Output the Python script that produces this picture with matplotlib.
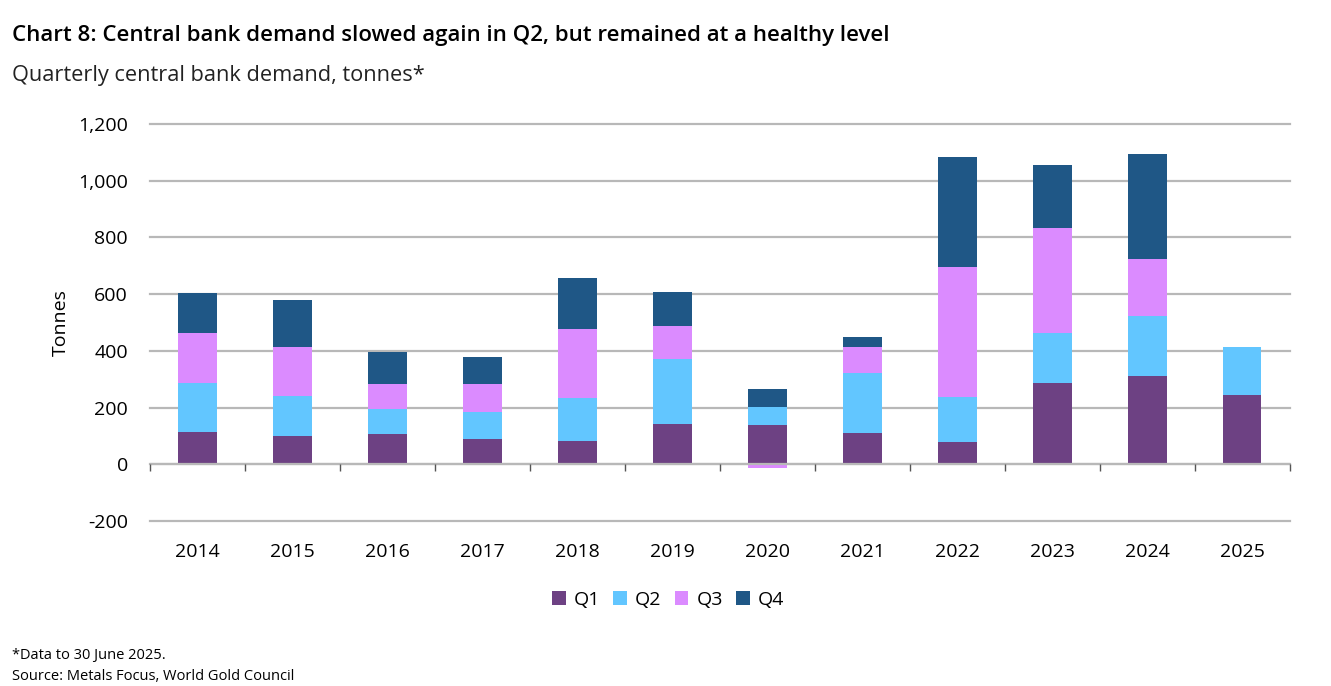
import numpy as np
import matplotlib
matplotlib.use('Agg')
from matplotlib import pyplot as plt
from matplotlib.patches import Patch

plt.rcParams['font.family'] = ['Open Sans', 'DejaVu Sans']

# Data (tonnes)
years = ['2014', '2015', '2016', '2017', '2018', '2019', '2020', '2021', '2022', '2023', '2024', '2025']
q1 = [115, 101, 108, 88, 82, 143, 139, 112, 79, 288, 312, 246]
q2 = [171, 141, 86, 98, 153, 229, 64, 210, 159, 176, 212, 169]
q3 = [178, 173, 88, 97, 241, 114, -12, 92, 459, 370, 200, np.nan]
q4 = [139, 166, 114, 96, 180, 121, 63, 36, 386, 220, 369, np.nan]

quarters = ['Q1', 'Q2', 'Q3', 'Q4']
colors = ['#6d4183', '#62c6ff', '#db8bff', '#1f5786']
yticks = [-200, 0, 200, 400, 600, 800, 1000, 1200]

fig = plt.figure(figsize=(13.31, 6.86), dpi=100)
ax = fig.add_axes([150 / 1331, 1 - 521 / 686, (1289.5 - 150) / 1331, (521 - 124) / 686])

x = np.arange(len(years))
series = np.array([q1, q2, q3, q4], dtype=float)
pos_base = np.zeros(len(years))
neg_base = np.zeros(len(years))
for vals, color, name in zip(series, colors, quarters):
    vals = np.nan_to_num(vals)
    bottoms = np.where(vals >= 0, pos_base, neg_base)
    ax.bar(x, vals, bottom=bottoms, width=0.41, color=color, label=name, zorder=3, linewidth=0)
    pos_base = pos_base + np.where(vals >= 0, vals, 0)
    neg_base = neg_base + np.where(vals < 0, vals, 0)

ax.set_xlim(-0.5, len(years) - 0.5)
ax.set_ylim(-200, 1200)
ax.set_yticks(yticks)
ax.set_yticklabels([f'{v:,}' for v in yticks])
ax.yaxis.grid(True, color='#b8b8b8', linewidth=1.6, zorder=0)
ax.set_axisbelow(True)
for s in ax.spines.values():
    s.set_visible(False)
ax.tick_params(axis='y', length=0, pad=16, labelsize=14, colors='#000000')
ax.set_xticks(x)
ax.set_xticklabels(years)
ax.tick_params(axis='x', length=0, pad=16, labelsize=14)

# zero axis line with category divider ticks
ax.axhline(0, color='#b8b8b8', linewidth=1.6, zorder=4)
bounds = np.arange(len(years) + 1) - 0.5
ax.vlines(bounds, -22, 0, color='#555555', linewidth=1, zorder=4, clip_on=False)

ax.set_ylabel('Tonnes', fontsize=14, labelpad=6)
for gl in ax.get_ygridlines():
    gl.set_clip_on(False)

fig.text(12 / 1331, 1 - 36 / 686, 'Chart 8: Central bank demand slowed again in Q2, but remained at a healthy level',
         fontsize=16, fontweight='semibold', va='center', ha='left')
fig.text(12 / 1331, 1 - 75 / 686, 'Quarterly central bank demand, tonnes*',
         fontsize=15.7, va='center', ha='left', color='#222222')

handles = [Patch(facecolor=c, label=q) for c, q in zip(colors, quarters)]
fig.legend(handles=handles, loc='center', bbox_to_anchor=(668 / 1331, 1 - 600 / 686), ncol=4,
           frameon=False, fontsize=14, handlelength=0.7, handleheight=0.7, handletextpad=0.4,
           columnspacing=0.7)

fig.text(12 / 1331, 1 - 655 / 686, '*Data to 30 June 2025.', fontsize=10.5, va='center', ha='left')
fig.text(12 / 1331, 1 - 676 / 686, 'Source: Metals Focus, World Gold Council', fontsize=10.5, va='center', ha='left')

fig.savefig('out.png', dpi=100)
